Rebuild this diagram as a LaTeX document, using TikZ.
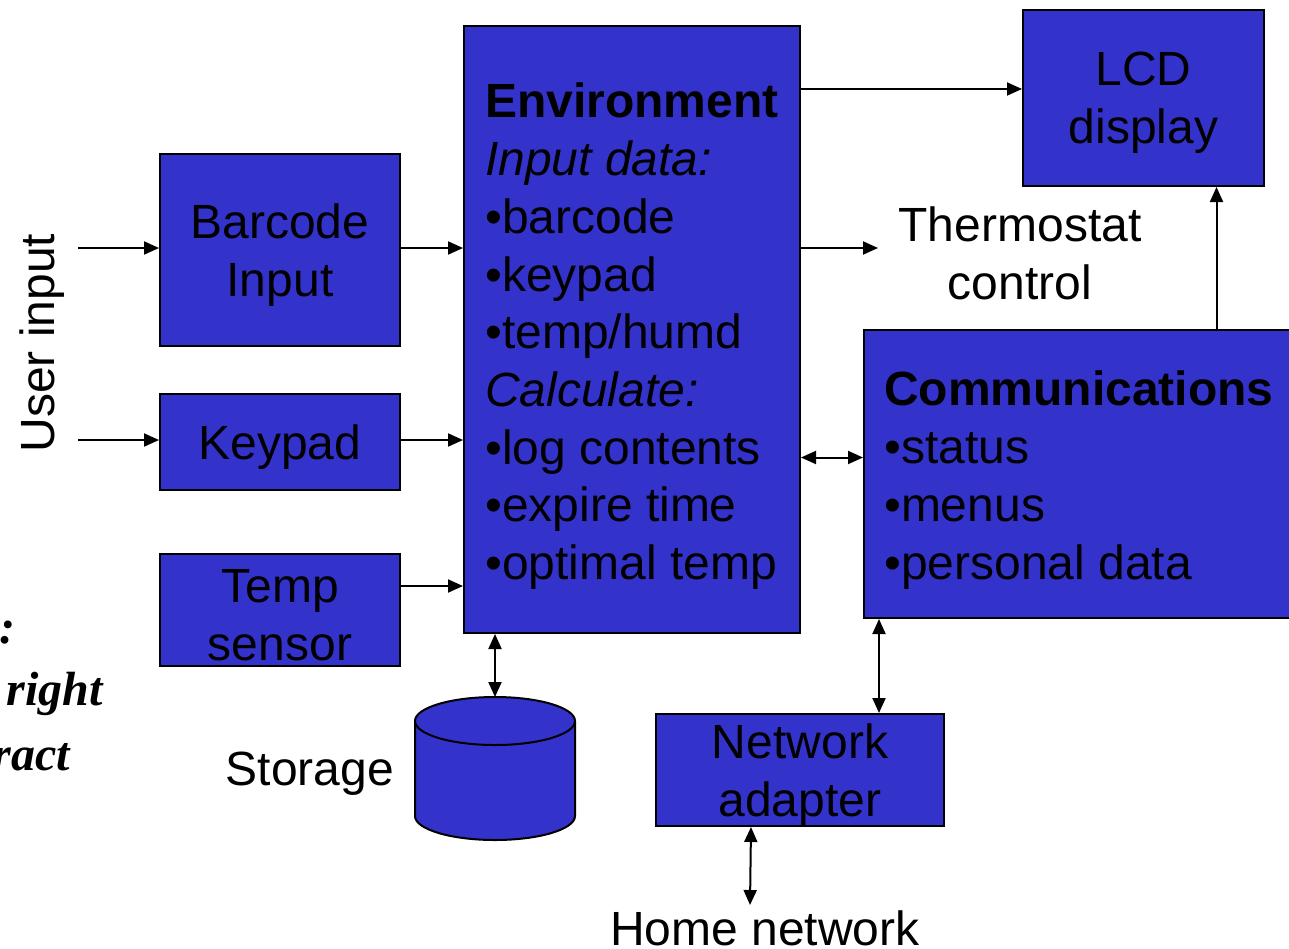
\documentclass[tikz,border=0pt]{standalone}
\usepackage{fontspec}
\setmainfont{Liberation Sans}
\newfontfamily\serifbi{Liberation Serif}
\usetikzlibrary{arrows.meta}
\definecolor{blockblue}{RGB}{51,51,204}
\tikzset{
  blk/.style={draw=black, line width=2pt, fill=blockblue, inner sep=0pt, anchor=north west},
  lbl/.style={font=\fontsize{48}{58}\selectfont, align=center, inner sep=0pt},
  blbl/.style={lbl, yshift=-5pt},
  txtl/.style={font=\fontsize{48}{57.7}\selectfont, align=left, inner sep=0pt, anchor=north west},
  cut/.style={font=\serifbi\bfseries\itshape\fontsize{48}{58}\selectfont, inner sep=0pt, anchor=base east},
  arr/.style={-{Triangle[length=15pt,width=13pt]}, line width=2pt},
  darr/.style={{Triangle[length=15pt,width=13pt]}-{Triangle[length=15pt,width=13pt]}, line width=2pt}
}
\begin{document}
\begin{tikzpicture}[x=1pt,y=-1pt]
\useasboundingbox (0,0) rectangle (1289,948);

% partially visible text at left edge
\node[cut] (c1) at (16,643) {:};
\node[cut] (c2) at (103,705) {right};
\node[cut] (c3) at (70,770) {ract};

% boxes
\node[blk, minimum width=336pt, minimum height=607pt] (env) at (463,25) {};
\node[blk, minimum width=241pt, minimum height=176pt] (lcd) at (1022,9) {};
\node[blk, minimum width=240pt, minimum height=192pt] (barcode) at (159,153) {};
\node[blk, minimum width=240pt, minimum height=96pt] (keypad) at (159,393) {};
\node[blk, minimum width=240pt, minimum height=112pt] (temp) at (159,553) {};
\node[blk, minimum width=440pt, minimum height=288pt] (comm) at (863,329) {};
\node[blk, minimum width=288pt, minimum height=112pt] (net) at (655,713) {};

% box texts
\node[blbl] (lcdt) at (lcd.center) {LCD\\display};
\node[blbl] (bart) at (barcode.center) {Barcode\\Input};
\node[blbl] (keyt) at (keypad.center) {Keypad};
\node[blbl] (tempt) at (temp.center) {Temp\\sensor};
\node[blbl] (nett) at (net.center) {Network\\adapter};
\node[txtl] (envt) at (485,83) {\textbf{Environment}\\\textit{Input data:}\\•barcode\\•keypad\\•temp/humd\\\textit{Calculate:}\\•log contents\\•expire time\\•optimal temp};
\node[txtl] (commt) at (884,371) {\textbf{Communications}\\•status\\•menus\\•personal data};

% free labels
\node[lbl, rotate=90] (user) at (42,343) {User input};
\node[lbl] (thermo) at (1020,253) {Thermostat\\control};
\node[lbl] (storl) at (310,774) {Storage};
\node[lbl] (home) at (765,928) {Home network};

% storage cylinder
\fill[blockblue] (415,721) -- (415,816) arc[start angle=180, end angle=0, x radius=80, y radius=24] -- (575,721) -- cycle;
\draw[line width=2pt] (415,721) -- (415,816) arc[start angle=180, end angle=0, x radius=80, y radius=24] -- (575,721);
\draw[line width=2pt, fill=blockblue] (495,721) ellipse[x radius=80, y radius=24];
\coordinate (stor) at (495,697);

% coordinates for free ends
\coordinate (u1) at (78,248);
\coordinate (u2) at (78,440);
\coordinate (th) at (878,248);
\coordinate (hn) at (750,905);
\coordinate (lcdin) at ([yshift=-64pt]env.north east);
\coordinate (lcdup) at ([xshift=73pt]lcd.south);
\coordinate (netup) at ([xshift=79pt]net.north);
\coordinate (netdn) at ([xshift=-49pt]net.south);
\coordinate (tempout) at ([yshift=24pt]temp.east);
\coordinate (envcomm) at ([yshift=-128pt]env.east);

% connectors
\draw[arr] (u1) -- (u1 -| barcode.west);
\draw[arr] (u2) -- (u2 -| keypad.west);
\draw[arr] (u1 -| barcode.east) -- (u1 -| env.west);
\draw[arr] (u2 -| keypad.east) -- (u2 -| env.west);
\draw[arr] (tempout) -- (tempout -| env.west);
\draw[arr] (lcdin) -- (lcdin -| lcd.west);
\draw[arr] (th -| env.east) -- (th);
\draw[darr] (envcomm) -- (envcomm -| comm.west);
\draw[arr] (lcdup |- comm.north) -- (lcdup);
\draw[darr] (stor |- env.south) -- (stor);
\draw[darr] (netup |- comm.south) -- (netup);
\draw[darr] (netdn) -- (hn);
\end{tikzpicture}
\end{document}
